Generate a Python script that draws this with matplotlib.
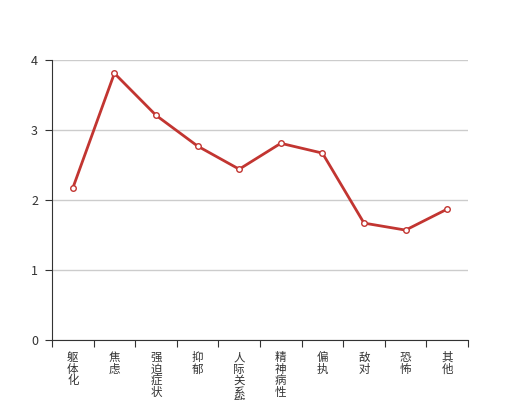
import numpy as np
import matplotlib.pyplot as plt

plt.rcParams['font.family'] = ['Noto Sans CJK SC', 'DejaVu Sans']

categories = ["躯体化", "焦虑", "强迫症状", "抑郁", "人际关系敏感",
              "精神病性", "偏执", "敌对", "恐怖", "其他"]
values = [2.17, 3.81, 3.21, 2.77, 2.44, 2.81, 2.67, 1.67, 1.57, 1.87]
yticks = [0, 1, 2, 3, 4]

fig = plt.figure(figsize=(5.2, 4.0), dpi=100)
ax = fig.add_axes([52 / 520, 60 / 400, 416 / 520, 280 / 400])

x = np.arange(len(categories))
ax.plot(x, values, color="#c23531", lw=2, marker="o", ms=4,
        mfc="white", mec="#c23531", mew=1, zorder=3)

ax.set_xlim(-0.5, len(categories) - 0.5)
ax.set_ylim(0, 4)
ax.set_yticks(yticks)
ax.grid(axis="y", color="#cccccc", lw=1)
ax.set_axisbelow(True)

# category ticks at band boundaries, labels centred in bands
ax.set_xticks(np.arange(len(categories) + 1) - 0.5)
ax.set_xticklabels([])
ax.set_xticks(x, minor=True)
ax.set_xticklabels(["\n".join(c) for c in categories], minor=True,
                   fontsize=8.3, color="#333333", va="top", linespacing=0.85)
ax.tick_params(axis="x", which="minor", length=0, pad=8)
ax.tick_params(axis="x", which="major", length=5, color="#333333")
ax.tick_params(axis="y", length=5, color="#333333", labelsize=9,
               labelcolor="#333333", pad=5)

for s in ["top", "right"]:
    ax.spines[s].set_visible(False)
for s in ["left", "bottom"]:
    ax.spines[s].set_color("#333333")

fig.savefig("out.png", dpi=100)
